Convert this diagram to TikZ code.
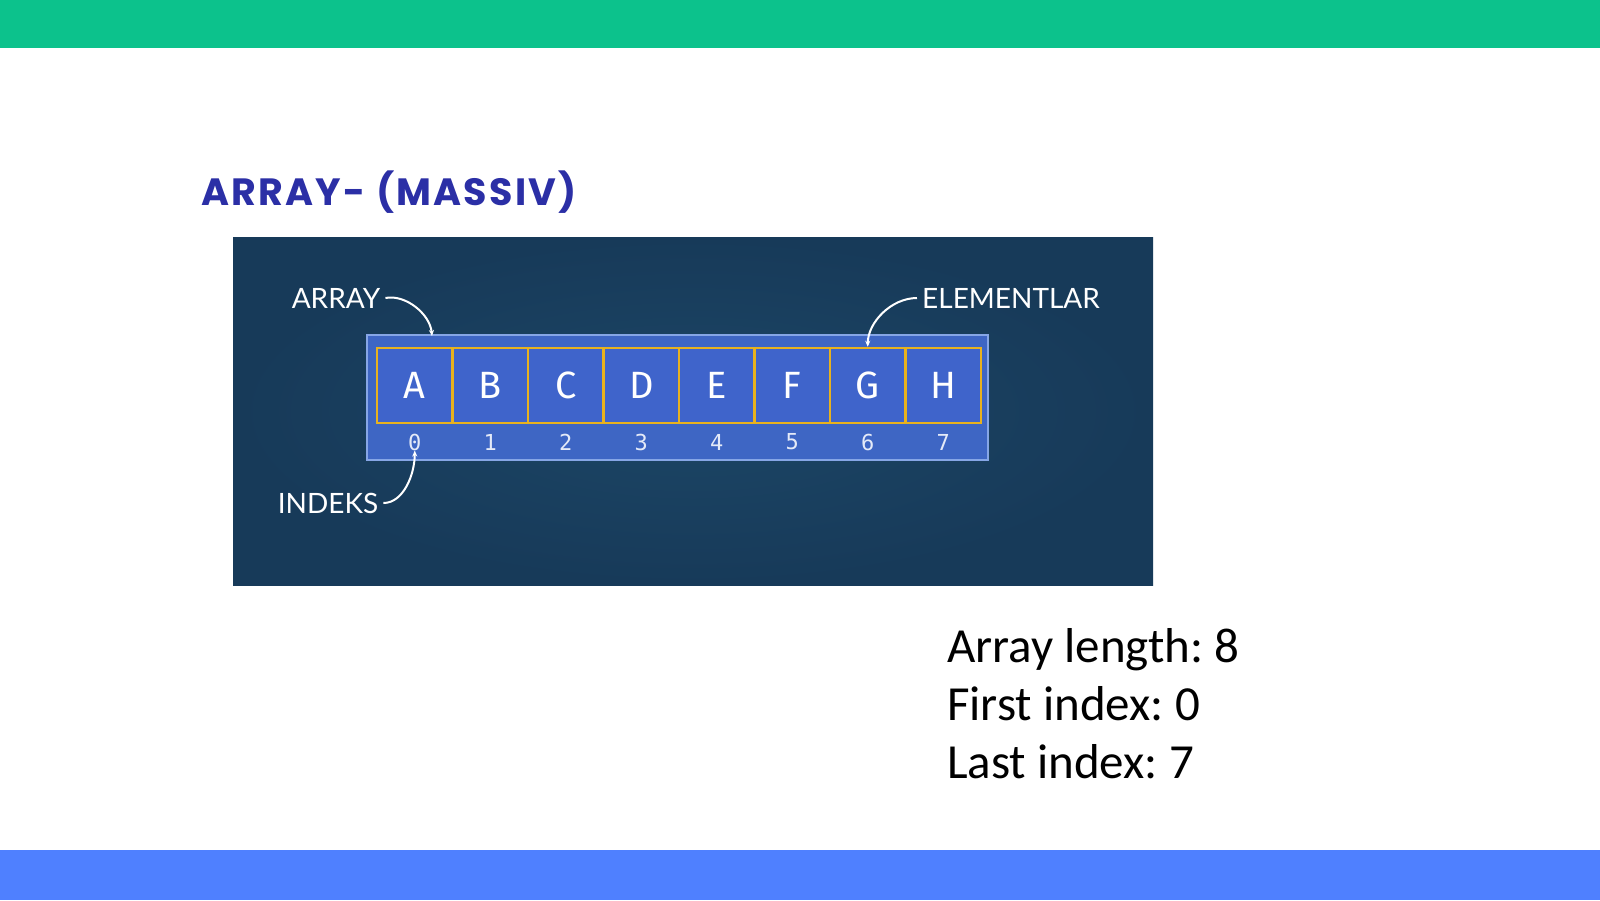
\documentclass[tikz,border=0pt]{standalone}
\usepackage{fontspec}
\setmainfont{Lato}
\newfontfamily\titlefont{Poppins}[LetterSpace=6]
\newfontfamily\bodyfont{Carlito}
\newfontfamily\cellfont{Fira Sans}
\newfontfamily\idxfont{DejaVu Sans Mono}
\usetikzlibrary{arrows.meta}
\frenchspacing
\definecolor{topgreen}{HTML}{0CC28C}
\definecolor{botblue}{HTML}{4F80FF}
\definecolor{titleblue}{HTML}{2B2FA6}
\definecolor{panelin}{HTML}{1C4666}
\definecolor{panelout}{HTML}{173A59}
\definecolor{barfill}{HTML}{3E66C4}
\definecolor{barline}{HTML}{86A6E6}
\definecolor{cellfill}{HTML}{3F64CB}
\definecolor{cellline}{HTML}{E8B21E}
\definecolor{idxcol}{HTML}{E4EAF8}
\tikzset{
  cellbox/.style={draw=cellline, line width=2.5pt, fill=cellfill, minimum width=75.5pt, minimum height=75pt, inner sep=0pt, text=white, font=\cellfont\fontsize{38}{40}\selectfont},
  barbox/.style={draw=barline, line width=1.5pt, fill=barfill, minimum width=621pt, minimum height=125pt, inner sep=0pt},
  idxlbl/.style={text=idxcol, font=\idxfont\fontsize{22}{24}\selectfont, inner sep=0pt},
  panellbl/.style={text=white, font=\fontsize{28}{30}\selectfont, inner sep=5pt},
  bodytxt/.style={anchor=base west, inner sep=0pt, text=black, font=\bodyfont\fontsize{49}{58}\selectfont},
  conn/.style={draw=white, line width=2pt, -{Stealth[length=6pt,width=5pt]}}
}
\begin{document}
\begin{tikzpicture}[x=1pt,y=-1pt]
\useasboundingbox (0,0) rectangle (1600,900);
\fill[white] (0,0) rectangle (1600,900);
\fill[topgreen] (0,0) rectangle (1600,48);
\fill[botblue] (0,850) rectangle (1600,900);
\node[anchor=west, inner sep=0pt, text=titleblue, font=\titlefont\bfseries\fontsize{38}{40}\selectfont] (title) at (201,192) {ARRAY- (MASSIV)};
\shade[inner color=panelin, outer color=panelout] (233,237) rectangle (1153,585);
\node[barbox] (bar) at (677.5,397.5) {};
\foreach \l [count=\i from 0] in {A,B,C,D,E,F,G,H} {
  \node[cellbox] (c\i) at ({377+75.5*(\i+0.5)},385.5) {\l};
  \node[idxlbl] (idx\i) at ({377+75.5*(\i+0.5)},442) {\i};
}
\node[panellbl] (lblarr) at (336,298) {ARRAY};
\node[panellbl] (lblel) at (1011,298) {ELEMENTLAR};
\node[panellbl] (lblidx) at (328,503) {INDEKS};
\coordinate (arrend) at (432,336);
\draw[conn] (lblarr.east) .. controls +(20,-4) and +(-2,-22) .. (arrend);
\draw[conn] (lblel.west) .. controls +(-26,0) and +(0,-24) .. (c6.north);
\draw[conn] (lblidx.east) .. controls +(20,0) and +(0,24) .. (idx0.south);
\node[bodytxt] (t1) at (947,662) {Array length: 8};
\node[bodytxt] (t2) at (947,720) {First index: 0};
\node[bodytxt] (t3) at (947,778) {Last index: 7};
\end{tikzpicture}
\end{document}
